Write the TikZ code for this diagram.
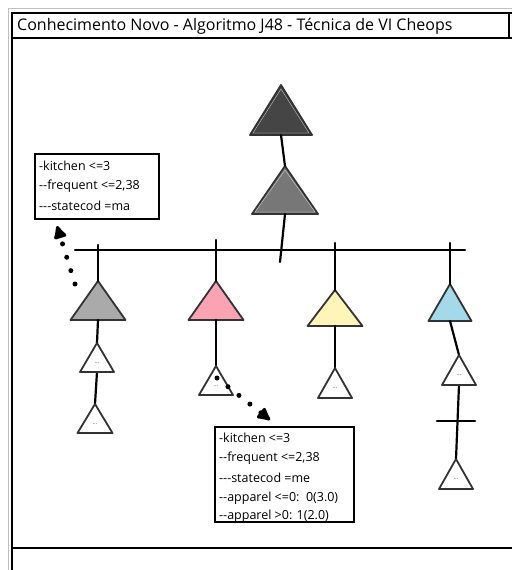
\documentclass[tikz,border=0pt]{standalone}
\usepackage{fontspec}
\setmainfont{Open Sans}[Ligatures=TeXOff]
\usetikzlibrary{arrows.meta}
\definecolor{tdark}{HTML}{454545}
\definecolor{tmid}{HTML}{777777}
\definecolor{tgray}{HTML}{AAAAAA}
\definecolor{tpink}{HTML}{F9A3B3}
\definecolor{tyellow}{HTML}{FFF5B8}
\definecolor{tblue}{HTML}{A3D9E8}
\definecolor{tedge}{HTML}{333333}
\tikzset{
  tristyle/.style={draw=tedge, line width=1.8pt, line join=round},
  innerline/.style={draw=white!70!gray, line width=0.3pt},
  stem/.style={draw=black, line width=2.2pt, line cap=round},
  frameline/.style={draw=black, line width=2pt},
  notebox/.style={draw=black, line width=2pt, fill=white, inner sep=0pt},
  notetext/.style={anchor=west, inner sep=0pt, font=\fontsize{12.5}{13}\selectfont},
  dots/.style={draw=black, line width=5pt, line cap=round, dash pattern=on 0pt off 14pt},
  blobtip/.style={-{Latex[length=16pt,width=16pt,round]}},
  dotlbl/.style={inner sep=0pt, font=\fontsize{6}{6}\selectfont, text=black!70},
}
% name, apex x, apex y, half width, height, fill
\newcommand{\tri}[6]{%
  \coordinate (#1-top) at (#2,#3);
  \coordinate (#1-bot) at (#2,#3+#5);
  \filldraw[tristyle, fill=#6] (#2,#3) -- (#2+#4,#3+#5) -- (#2-#4,#3+#5) -- cycle;
}
\newcommand{\smalltri}[5]{%
  \tri{#1}{#2}{#3}{#4}{#5}{white}
  \node[dotlbl] (#1-lbl) at (#2,#3+0.68*#5) {...};
}
\begin{document}
\begin{tikzpicture}[x=1pt,y=-1pt]
\useasboundingbox (0,0) rectangle (512,570);
% frame
\draw[gray!50, line width=1pt] (8,570) -- (8,8) -- (512,8);
\draw[frameline] (12,570) -- (12,13) -- (512,13);
\draw[frameline] (12,38) -- (512,38);
\draw[frameline] (509,13) -- (509,38);
\draw[frameline] (12,548) -- (512,548);
\node[anchor=west, inner sep=0pt, font=\fontsize{16}{18}\selectfont] (title) at (17,26) {Conhecimento Novo - Algoritmo J48 - Técnica de VI Cheops};

% connectors (under triangles)
\coordinate (stemEnd) at (280,262);
\coordinate (barL) at (75,250);
\coordinate (barR) at (465,250);
\coordinate (dropA) at (98,245);
\coordinate (dropB) at (216,240);
\coordinate (dropC) at (335,243);
\coordinate (dropD) at (450,243);
\coordinate (tickL) at (437,421);
\coordinate (tickR) at (475,421);

% triangles
\tri{T1}{281}{85}{31}{50}{tdark}
\tri{T2}{285}{166}{33}{48}{tmid}
\draw[innerline] (281,89) -- (309,133) -- (253,133) -- cycle;
\draw[innerline] (285,170) -- (315,212) -- (255,212) -- cycle;
\draw[stem] (T1-bot) -- (T2-top);
\draw[stem] (T2-bot) -- (stemEnd);
\draw[stem] (barL) -- (barR);

\tri{A}{98}{281}{27.5}{39}{tgray}
\tri{B}{216}{281}{27.5}{39}{tpink}
\tri{C}{335}{290}{27.5}{36}{tyellow}
\tri{D}{450}{284}{21.5}{37}{tblue}
\draw[stem] (dropA) -- (A-top);
\draw[stem] (dropB) -- (B-top);
\draw[stem] (dropC) -- (C-top);
\draw[stem] (dropD) -- (D-top);

\draw[stem] (A-bot) -- (97,343);
\draw[stem] (97,372) -- (95,404);
\draw[stem] (B-bot) -- (216,366);
\draw[stem] (C-bot) -- (335,368);
\draw[stem] (D-bot) -- (459,355);
\draw[stem] (459,385) -- (456,459);
\draw[stem] (tickL) -- (tickR);

\smalltri{a1}{97}{343}{17}{29}
\smalltri{a2}{95}{404}{17.5}{29}
\smalltri{b1}{216}{366}{17}{29}
\smalltri{c1}{335}{368}{17}{30}
\smalltri{d1}{459}{355}{17}{30}
\smalltri{d2}{456}{459}{17}{30}

% note 1
\node[notebox, anchor=north west, minimum width=124pt, minimum height=65pt] (note1) at (34,153) {};
\node[notetext] (n1a) at (39,166) {-kitchen <=3};
\node[notetext] (n1b) at (39,186) {--frequent <=2,38};
\node[notetext] (n1c) at (39,206) {---statecod =ma};

% note 2
\node[notebox, anchor=north west, minimum width=139pt, minimum height=95pt] (note2) at (214,426) {};
\node[notetext] (n2a) at (219,438) {-kitchen <=3};
\node[notetext] (n2b) at (219,458) {--frequent <=2,38};
\node[notetext] (n2c) at (219,478) {---statecod =me};
\node[notetext] (n2d) at (219,498) {--apparel <=0:\ \ 0(3.0)};
\node[notetext] (n2e) at (219,516) {--apparel >0: 1(2.0)};

% dotted arrows
\coordinate (arr1s) at (75,284);
\coordinate (arr1e) at (57,226);
\coordinate (arr2s) at (217,378);
\coordinate (arr2e) at (270,420);
\draw[dots, blobtip] (arr1s) -- (arr1e);
\draw[dots, blobtip] (arr2s) -- (arr2e);
\end{tikzpicture}
\end{document}
